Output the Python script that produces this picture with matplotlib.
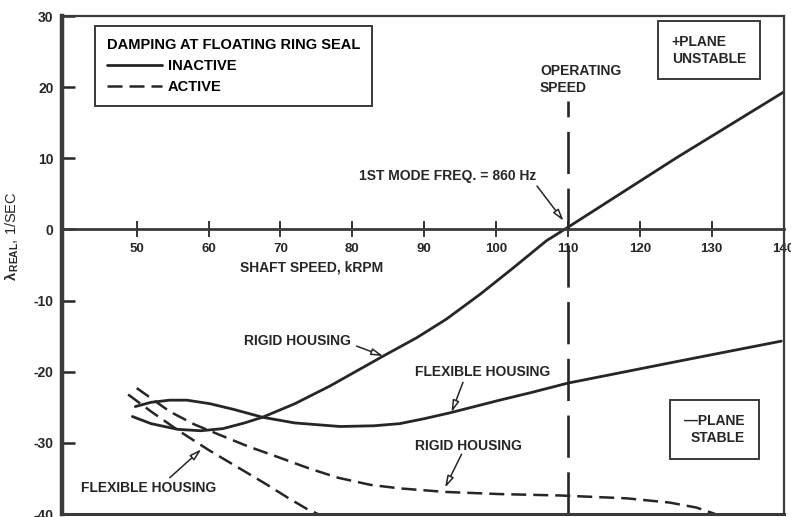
import matplotlib
matplotlib.use('Agg')
import matplotlib.pyplot as plt

plt.rcParams['font.family'] = ['Liberation Sans', 'DejaVu Sans']
plt.rcParams['font.weight'] = 'bold'
plt.rcParams['axes.unicode_minus'] = False
plt.rcParams['mathtext.fontset'] = 'custom'
plt.rcParams['mathtext.rm'] = 'Liberation Sans:bold'
plt.rcParams['mathtext.it'] = 'Liberation Sans:bold'

# Damping inactive (solid), rigid housing
rigid_inactive_x = [49.4, 52, 55.7, 58.9, 62, 65, 67.5, 72, 76.9, 80.6, 84.3, 89.0, 93.1, 97.8, 102.4, 107.0, 110.0, 125.0, 140.0]
rigid_inactive_y = [-26.3, -27.3, -28.1, -28.3, -28.0, -27.2, -26.4, -24.5, -22.0, -19.9, -17.8, -15.2, -12.6, -9.1, -5.4, -1.6, 0.3, 10.0, 19.3]

# Damping inactive (solid), flexible housing
flex_inactive_x = [49.8, 52, 54.6, 57, 60.2, 63.5, 67.5, 72, 78.3, 83, 86.6, 90, 93.5, 97, 100.5, 105, 110, 125, 139.7]
flex_inactive_y = [-24.9, -24.3, -24.0, -24.0, -24.5, -25.3, -26.4, -27.2, -27.7, -27.6, -27.3, -26.6, -25.8, -24.9, -24.0, -22.9, -21.6, -18.6, -15.7]

# Damping active (dashed), rigid housing
rigid_active_x = [50, 54.6, 58, 61.6, 65.5, 69.4, 74, 78, 82.5, 86.6, 93, 100.5, 109, 118.2, 124.2, 127.9, 130.5]
rigid_active_y = [-22.3, -25.6, -27.4, -28.9, -30.5, -31.9, -33.6, -34.9, -35.9, -36.4, -36.9, -37.2, -37.4, -37.8, -38.4, -39.1, -40.0]

# Damping active (dashed), flexible housing
flex_active_x = [48.8, 52, 56, 60, 64, 68, 71, 73.7, 75.2]
flex_active_y = [-23.2, -25.6, -28.4, -31.0, -33.4, -35.8, -37.7, -39.3, -40.0]

operating_speed = 110
x_ticks = [50, 60, 70, 80, 90, 100, 110, 120, 130, 140]
y_ticks = [-40, -30, -20, -10, 0, 10, 20, 30]

ink = '#262626'
frame = '#3a3a3a'

fig = plt.figure(figsize=(7.91, 5.17), dpi=100)
ax = fig.add_axes([62 / 791, 1 - 514 / 517, 721.5 / 791, 498 / 517])
ax.set_xlim(39.6, 140)
ax.set_ylim(-40, 30)

# curves
h_solid, = ax.plot(rigid_inactive_x, rigid_inactive_y, color=ink, lw=2.0, solid_capstyle='round')
ax.plot(flex_inactive_x, flex_inactive_y, color=ink, lw=2.0, solid_capstyle='round')
h_dash, = ax.plot(rigid_active_x, rigid_active_y, color=ink, lw=1.8, dashes=(6, 2.8))
ax.plot(flex_active_x, flex_active_y, color=ink, lw=1.8, dashes=(6, 2.8))

# operating speed line
ax.vlines(operating_speed, -40, 18, color=ink, lw=1.9, linestyles=(0, (16, 5.5)))

# frame: x axis runs along zero, bottom edge drawn separately
ax.spines['bottom'].set_position(('data', 0))
for side, w in [('left', 3.2), ('top', 1.6), ('right', 1.6), ('bottom', 2.0)]:
    ax.spines[side].set_linewidth(w)
    ax.spines[side].set_color(frame)
ax.axhline(-40, color=frame, lw=2.2, clip_on=False)

# y axis
ax.set_yticks(y_ticks)
ax.tick_params(axis='y', direction='in', length=9, width=1.8, pad=6,
               labelsize=10, colors=ink)
ax.set_ylabel(r'$\lambda_{\,\mathrm{REAL}}$, 1/SEC', fontsize=10.5, color=ink)
ax.yaxis.set_label_coords(-(62 - 21) / 721.5, 0.557)

# x axis
ax.set_xticks(x_ticks)
ax.tick_params(axis='x', direction='inout', length=11, width=1.3, pad=4,
               labelsize=9.5, colors=ink)
ax.text(74.3, -5.4, 'SHAFT SPEED, kRPM', fontsize=10, ha='center', va='center', color=ink)

# legend
leg = ax.legend([h_solid, h_dash], ['INACTIVE', 'ACTIVE'],
                title='DAMPING AT FLOATING RING SEAL',
                loc='upper left', bbox_to_anchor=((95 - 62) / 721.5, (514 - 26) / 498),
                alignment='left', fancybox=False, framealpha=1, edgecolor=frame,
                handlelength=3.8, handletextpad=0.4, labelspacing=0.5,
                borderpad=0.8, borderaxespad=0,
                prop={'size': 10.5, 'weight': 'bold'},
                title_fontproperties={'size': 10.5, 'weight': 'bold'})
leg.get_frame().set_linewidth(1.4)

# boxed region labels
box = dict(boxstyle='square,pad=1.0', fc='white', ec=frame, lw=1.4)
ax.text(129.6, 25.2, '+PLANE\nUNSTABLE', fontsize=10, ha='center', va='center',
        ma='left', linespacing=1.25, bbox=box, color=ink)
ax.text(130.4, -28.1, '\u2014PLANE\nSTABLE', fontsize=10, ha='center', va='center',
        ma='right', linespacing=1.25, bbox=box, color=ink)

ax.text(106.1, 21.1, 'OPERATING\nSPEED', fontsize=10, ha='left', va='center',
        linespacing=1.25, color=ink)
ax.text(93.2, 7.5, '1ST MODE FREQ. = 860 Hz', fontsize=10, ha='center', va='center', color=ink)

# curve labels
curve_labels = [
    ('RIGID HOUSING', (72.4, -15.7), (80.6, -16.4), (84.3, -17.8)),
    ('FLEXIBLE HOUSING', (98.1, -20.1), (95.4, -21.5), (93.8, -25.7)),
    ('RIGID HOUSING', (96.1, -30.4), (95.2, -31.6), (92.9, -36.3)),
    ('FLEXIBLE HOUSING', (51.6, -36.3), (54.6, -34.9), (59.0, -30.9)),
]
arrow = dict(arrowstyle='-|>,head_length=0.7,head_width=0.2', ec=ink, fc='white',
             lw=1.1, shrinkA=0, shrinkB=0)
for text, pos, start, tip in curve_labels:
    ax.text(pos[0], pos[1], text, fontsize=10, ha='center', va='center', color=ink)
    ax.annotate('', xy=tip, xytext=start, arrowprops=arrow)

ax.annotate('', xy=(109.4, 1.2), xytext=(105.7, 6.1), arrowprops=arrow)

fig.savefig('out.png', dpi=100, facecolor='white')
